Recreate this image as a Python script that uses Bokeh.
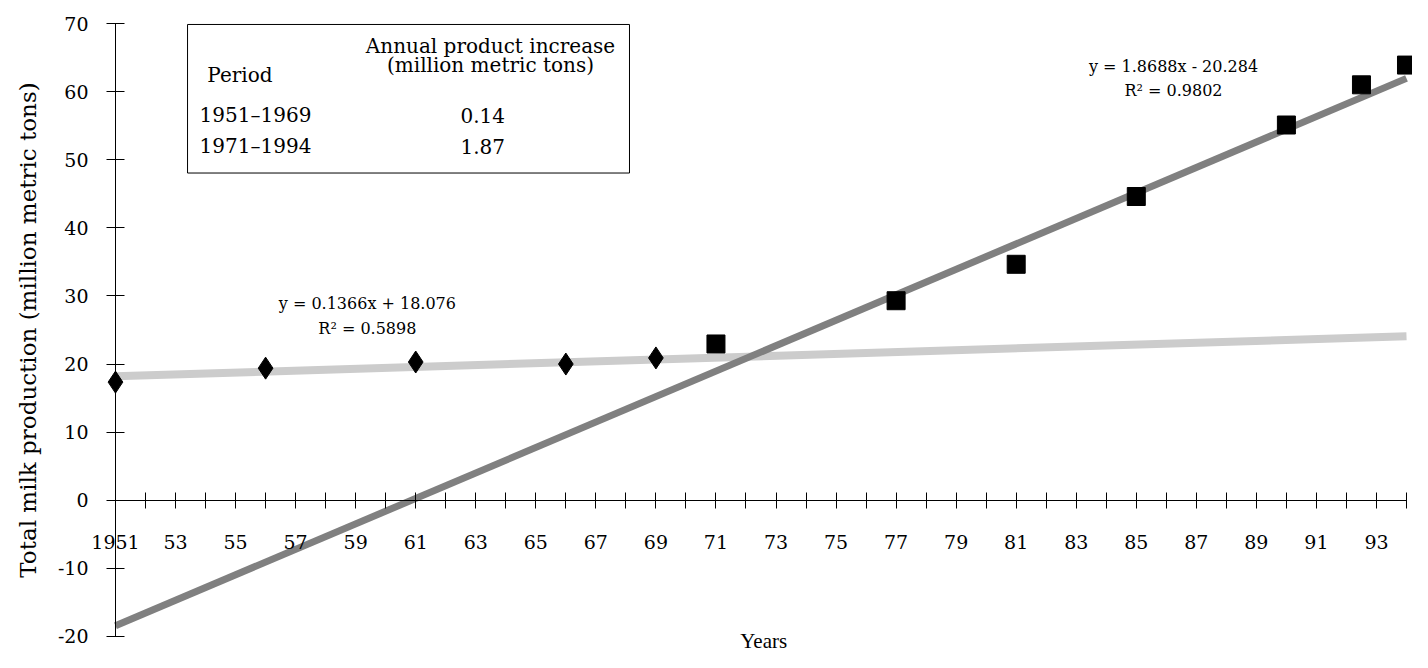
from bokeh.plotting import figure
from bokeh.models import Range1d, LinearAxis, FixedTicker, Label, BoxAnnotation
from bokeh.embed import file_html
from bokeh.resources import INLINE

# ---- data ----
years_early = [1951, 1956, 1961, 1966, 1969]
milk_early = [17.35, 19.4, 20.3, 20.0, 20.9]
years_late = [1971, 1977, 1981, 1985, 1990, 1992.5, 1994]
milk_late = [22.95, 29.3, 34.65, 44.6, 55.1, 61.0, 63.9]

# trend lines as printed on the chart (x = 1 for 1951)
trend_early = {"slope": 0.1366, "intercept": 18.076, "r2": 0.5898}
trend_late = {"slope": 1.8688, "intercept": -20.284, "r2": 0.9802}
index_origin = 1950
trend_years = [1951, 1994]

tick_years = list(range(1951, 1995))
y_ticks = [-20, -10, 0, 10, 20, 30, 40, 50, 60, 70]

periods = ["1951\u20131969", "1971\u20131994"]
annual_increase = ["0.14", "1.87"]

SERIF = "DejaVu Serif"


def year_label(y):
    if y == 1951:
        return "1951"
    if (y - 1951) % 2 == 0:
        return "%02d" % (y % 100)
    return ""


p = figure(width=1412, height=652,
           x_range=Range1d(1947.17, 1994.2), y_range=Range1d(-22.35, 73.38),
           x_axis_type=None, y_axis_type=None,
           output_backend="svg", toolbar_location=None,
           min_border_left=0, min_border_right=0,
           min_border_top=0, min_border_bottom=0)
p.outline_line_color = None
p.background_fill_color = "white"

# x axis crossing at y = 0
xaxis = LinearAxis(fixed_location=0, bounds=(1951, 1994),
                   ticker=FixedTicker(ticks=tick_years),
                   major_label_overrides={y: year_label(y) for y in tick_years},
                   major_tick_in=8, major_tick_out=8,
                   minor_tick_in=0, minor_tick_out=0,
                   major_label_standoff=27,
                   major_label_text_font=SERIF,
                   major_label_text_font_size="19px",
                   major_label_text_color="black",
                   axis_line_color="black", major_tick_line_color="black")
p.add_layout(xaxis, "below")

# y axis at the 1951 position
yaxis = LinearAxis(fixed_location=1951, bounds=(-20, 70),
                   ticker=FixedTicker(ticks=y_ticks),
                   major_label_overrides={v: str(v) for v in y_ticks},
                   major_tick_in=9, major_tick_out=9,
                   minor_tick_in=0, minor_tick_out=0,
                   major_label_standoff=18,
                   major_label_text_font=SERIF,
                   major_label_text_font_size="19px",
                   major_label_text_color="black",
                   axis_line_color="black", major_tick_line_color="black",
                   axis_label="Total milk production (million metric tons)",
                   axis_label_text_font=SERIF,
                   axis_label_text_font_size="23px",
                   axis_label_text_font_style="normal",
                   axis_label_text_color="black",
                   axis_label_standoff=14)
p.add_layout(yaxis, "left")

# axis title under the x axis
p.add_layout(Label(x=1972.59, y=-20.6, text="Years", text_align="center",
                   text_baseline="middle", text_font="Liberation Serif",
                   text_font_size="21px", text_color="black"))

# trend lines
def trend(t):
    return [t["slope"] * (y - index_origin) + t["intercept"] for y in trend_years]

p.line(trend_years, trend(trend_early), line_color="#cccccc", line_width=8)
p.line(trend_years, trend(trend_late), line_color="#808080", line_width=7)

p.scatter(years_early, milk_early, marker="diamond", size=22,
          fill_color="black", line_color="black")
p.scatter(years_late, milk_late, marker="square", size=18,
          fill_color="black", line_color="black")

# equations
def eq_text(t):
    sign = "+" if t["intercept"] >= 0 else "-"
    return "y = %.4fx %s %.3f" % (t["slope"], sign, abs(t["intercept"]))

for t, x, y1, y2 in [(trend_late, 1986.24, 63.69, 60.17),
                     (trend_early, 1959.39, 28.89, 25.22)]:
    p.add_layout(Label(x=x, y=y1, text=eq_text(t), text_align="center",
                       text_baseline="middle", text_font=SERIF,
                       text_font_size="16px", text_color="black"))
    p.add_layout(Label(x=x, y=y2, text="R\u00b2 = %.4f" % t["r2"],
                       text_align="center", text_baseline="middle",
                       text_font=SERIF, text_font_size="16px",
                       text_color="black"))

# table box
p.add_layout(BoxAnnotation(left=1953.40, right=1968.12, top=69.86, bottom=48.05,
                           fill_color="white", fill_alpha=1.0,
                           line_color="black", line_width=1, line_alpha=1.0,
                           level="underlay"))


def box_label(x, y, text, align):
    p.add_layout(Label(x=x, y=y, text=text, text_align=align,
                       text_baseline="middle", text_font=SERIF,
                       text_font_size="20px", text_color="black"))


box_label(1963.49, 66.70, "Annual product increase", "center")
box_label(1963.49, 63.98, "(million metric tons)", "center")
box_label(1954.06, 62.37, "Period", "left")
row_y = [56.50, 51.95]
for per, inc, yy in zip(periods, annual_increase, row_y):
    box_label(1953.80, yy, per, "left")
    box_label(1963.23, yy, inc, "center")

open("out.html", "w").write(file_html(p, INLINE))
